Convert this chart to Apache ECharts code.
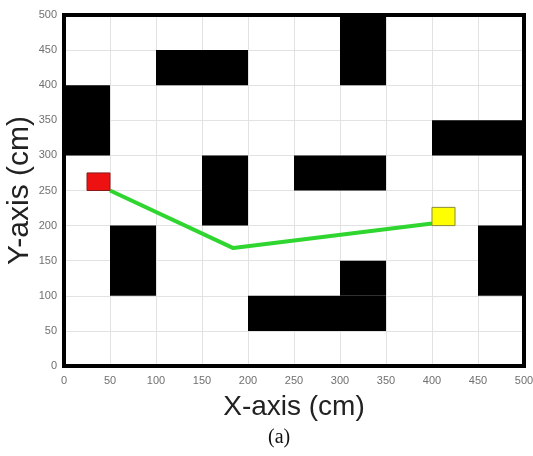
<!DOCTYPE html>
<html>
<head>
<meta charset="utf-8">
<script src="https://cdn.jsdelivr.net/npm/echarts@6/dist/echarts.min.js"></script>
<style>
  html, body { margin: 0; padding: 0; background: #fff; }
  #main { width: 533px; height: 456px; }
</style>
</head>
<body>
<div id="main"></div>
<script>
// obstacles: [x0, x1, y0, y1] in cm
var obstacles = [
  [100, 200, 400, 450],
  [0, 50, 300, 400],
  [300, 350, 400, 500],
  [400, 500, 300, 350],
  [150, 200, 200, 300],
  [250, 350, 250, 300],
  [50, 100, 100, 200],
  [450, 500, 100, 200],
  [200, 350, 50, 100],
  [300, 350, 100, 150]
];
// start (red) and goal (yellow) markers
var startBox = [25, 50, 250, 275];
var goalBox = [400, 425, 200, 226];
// planned path
var pathPoints = [[50, 250], [184, 168], [400, 203]];
// whole field, used for the frame
var field = [0, 500, 0, 500];

var chart = echarts.init(document.getElementById('main'));

function rectItem(fill, stroke, lw) {
  return function (params, api) {
    var p0 = api.coord([api.value(0), api.value(3)]);
    var p1 = api.coord([api.value(1), api.value(2)]);
    return {
      type: 'rect',
      shape: { x: p0[0], y: p0[1], width: p1[0] - p0[0], height: p1[1] - p0[1] },
      style: { fill: fill, stroke: stroke, lineWidth: lw || 0 }
    };
  };
}

var axisCommon = {
  type: 'value',
  min: 0,
  max: 500,
  interval: 50,
  axisLine: { show: false },
  axisTick: { show: false },
  splitLine: { show: true, lineStyle: { color: '#e2e2e2', width: 1 } },
  axisLabel: { color: '#707070', fontSize: 11, fontFamily: 'Liberation Sans' }
};

chart.setOption({
  animation: false,
  grid: { left: 64, right: 9, top: 15, bottom: 90, outerBoundsMode: 'none' },
  xAxis: Object.assign({}, axisCommon, {
    name: 'X-axis (cm)',
    nameLocation: 'middle',
    nameGap: 27,
    nameTextStyle: { color: '#222', fontSize: 28, fontFamily: 'Liberation Sans' },
    axisLabel: Object.assign({}, axisCommon.axisLabel, { margin: 9 })
  }),
  yAxis: Object.assign({}, axisCommon, {
    name: 'Y-axis (cm)',
    nameLocation: 'middle',
    nameRotate: 90,
    nameGap: 29,
    nameMoveOverlap: false,
    nameTextStyle: { color: '#222', fontSize: 30, fontFamily: 'Liberation Sans' },
    axisLabel: Object.assign({}, axisCommon.axisLabel, { margin: 7 })
  }),
  graphic: [{
    type: 'text',
    left: 268,
    top: 428,
    style: { text: '(a)', fill: '#111', fontSize: 20, fontFamily: 'Liberation Serif' }
  }],
  series: [
    {
      type: 'custom',
      renderItem: rectItem('#000', null),
      data: obstacles,
      z: 2
    },
    {
      type: 'line',
      data: pathPoints,
      symbol: 'none',
      lineStyle: { color: '#2fd62f', width: 4 },
      z: 3
    },
    {
      type: 'custom',
      renderItem: rectItem('#ee1111', '#8a1a1a', 1),
      data: [startBox],
      z: 4
    },
    {
      type: 'custom',
      renderItem: rectItem('#ffff00', '#8a8a3a', 1),
      data: [goalBox],
      z: 4
    },
    {
      type: 'custom',
      renderItem: rectItem('none', '#000', 4),
      data: [field],
      clip: false,
      silent: true,
      z: 5
    }
  ]
});
</script>
</body>
</html>
